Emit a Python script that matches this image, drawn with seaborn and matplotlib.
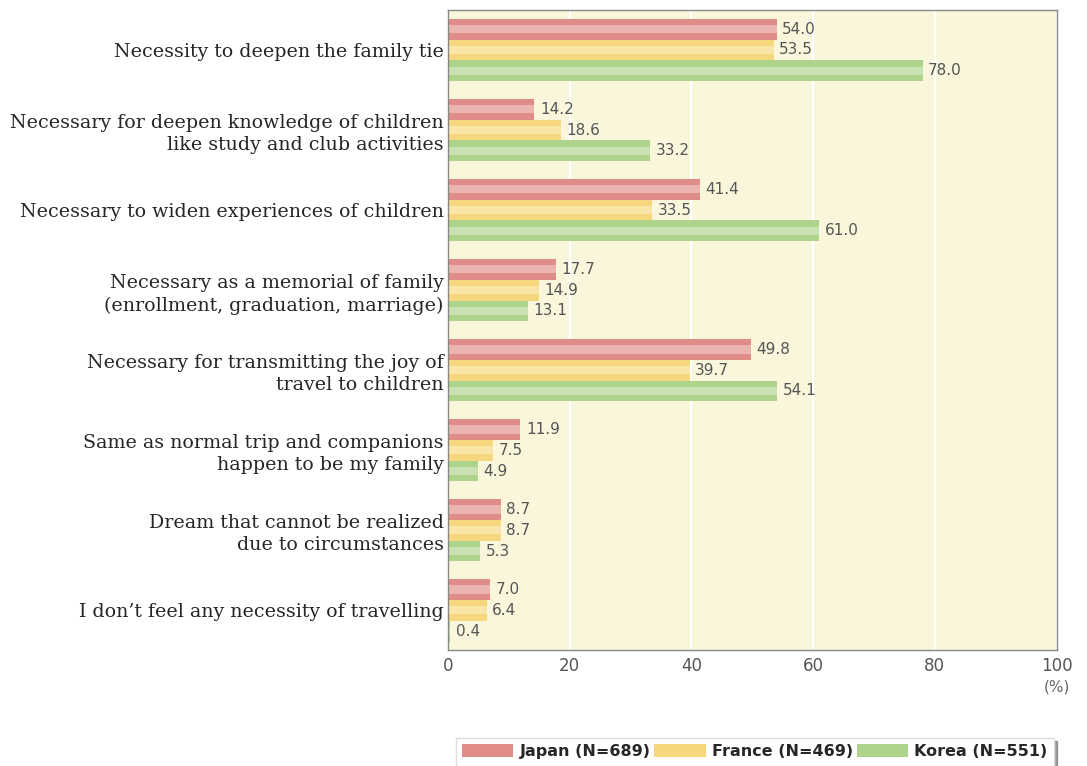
import numpy as np
import pandas as pd
import matplotlib
matplotlib.use("Agg")
import matplotlib.pyplot as plt
import matplotlib.patches as mpatches
import seaborn as sns

reasons = ["Necessity to deepen the family tie",
           "Necessary for deepen knowledge of children\nlike study and club activities",
           "Necessary to widen experiences of children",
           "Necessary as a memorial of family\n(enrollment, graduation, marriage)",
           "Necessary for transmitting the joy of\ntravel to children",
           "Same as normal trip and companions\nhappen to be my family",
           "Dream that cannot be realized\ndue to circumstances",
           "I don\u2019t feel any necessity of travelling"]
japan = [54.0, 14.2, 41.4, 17.7, 49.8, 11.9, 8.7, 7.0]
france = [53.5, 18.6, 33.5, 14.9, 39.7, 7.5, 8.7, 6.4]
korea = [78.0, 33.2, 61.0, 13.1, 54.1, 4.9, 5.3, 0.4]
countries = ["Japan (N=689)", "France (N=469)", "Korea (N=551)"]
colors = ["#e08c88", "#f6d77e", "#aed38a"]

df = pd.DataFrame({"reason": reasons * 3,
                   "country": np.repeat(countries, len(reasons)),
                   "value": japan + france + korea})

sns.set_style("white")
fig = plt.figure(figsize=(10.87, 7.66), dpi=100)
ax = fig.add_axes([0.412, 0.151, 0.56, 0.836])
ax.set_facecolor("#faf6dc")

sns.barplot(data=df, y="reason", x="value", hue="country", orient="h",
            palette=colors, width=0.78, gap=0, edgecolor="none",
            saturation=1, ax=ax, legend=True)

# lighter stripe through the middle of every bar (glossy look)
for cont in ax.containers:
    for p in cont.patches:
        x0, y0 = p.get_x(), p.get_y()
        w, hgt = p.get_width(), p.get_height()
        ax.add_patch(mpatches.Rectangle((x0, y0 + hgt * 0.3), w, hgt * 0.4,
                                        facecolor="white", alpha=0.35,
                                        edgecolor="none", zorder=p.get_zorder() + 0.1))

for cont in ax.containers:
    ax.bar_label(cont, fmt="%.1f", padding=4, fontsize=11, color="#555555")

ax.set_xlim(0, 100)
ax.set_xticks([0, 20, 40, 60, 80, 100])
ax.xaxis.grid(True, color="white", linewidth=1.5)
ax.set_axisbelow(True)
ax.tick_params(axis="x", direction="in", length=5, color="#666666",
               labelcolor="#555555", labelsize=12, pad=5)
ax.tick_params(axis="y", length=0, labelsize=13.7, pad=3)
for lab in ax.get_yticklabels():
    lab.set_family("DejaVu Serif")
    lab.set_linespacing(1.3)
ax.set_xlabel("")
ax.set_ylabel("")
for s in ax.spines.values():
    s.set_color("#888888")
    s.set_linewidth(1)
ax.text(100, -0.045, "(%)", transform=ax.get_xaxis_transform(), ha="center",
        va="top", fontsize=11, color="#666666")

h, l = ax.get_legend_handles_labels()
ax.legend_.remove()
leg = fig.legend(h, l, loc="lower left", bbox_to_anchor=(0.412, -0.01, 0.565, 0.058),
                 mode="expand", ncol=3, frameon=True, shadow=True, fancybox=False,
                 handlelength=3.2, handleheight=0.9, handletextpad=0.4,
                 columnspacing=1.0,
                 prop={"weight": "bold", "size": 11.5})
leg.get_frame().set_edgecolor("#dddddd")

plt.savefig("out.png", dpi=100)
